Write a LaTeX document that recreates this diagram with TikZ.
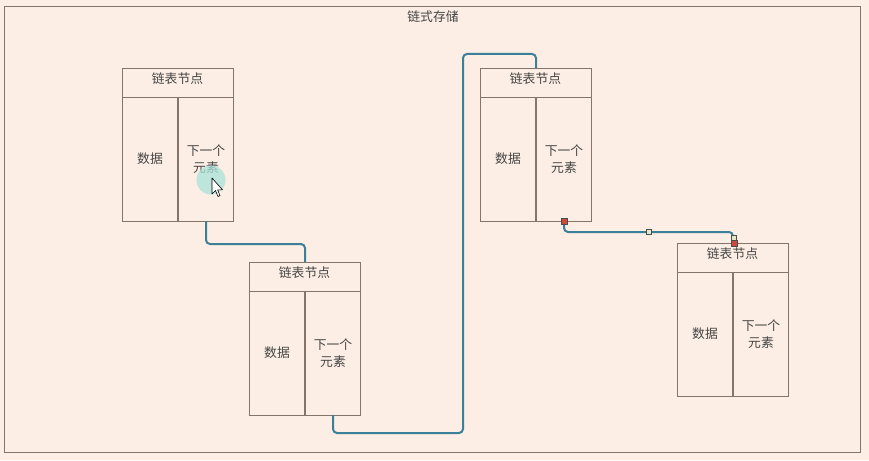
\documentclass[tikz,border=0pt]{standalone}
\usepackage{fontspec}
\setmainfont{Noto Sans CJK SC}
\definecolor{bgc}{HTML}{FCEEE4}
\definecolor{edgec}{HTML}{857468}
\definecolor{linkc}{HTML}{3C7F98}
\definecolor{txtc}{HTML}{454545}
\definecolor{handr}{HTML}{D0483C}
\definecolor{handw}{HTML}{E4E6C8}
\definecolor{hilite}{HTML}{A8E2D8}
\tikzset{
  x=1pt,y=-1pt,
  frame/.style={draw=edgec,line width=1pt},
  cell/.style={draw=edgec,line width=0.9pt},
  divider/.style={draw=edgec,line width=1.7pt},
  lbl/.style={text=txtc,font=\fontsize{12.8}{17.4}\selectfont,inner sep=0pt,align=center},
  link/.style={draw=linkc,line width=2pt,rounded corners=4pt},
  hred/.style={draw=black!70,fill=handr,line width=0.6pt,minimum size=6pt,inner sep=0pt},
  hwhite/.style={draw=black!70,fill=handw,line width=0.6pt,minimum size=5pt,inner sep=0pt}
}
% #1 name, #2 left x, #3 top y
\newcommand{\listnode}[3]{%
  \coordinate (#1-tl) at (#2,#3);
  \draw[cell] (#2,#3) rectangle ++(111,153);
  \draw[cell] (#2,#3+29) -- ++(111,0);
  \draw[divider] (#2+56,#3+29) -- ++(0,124);
  \node[lbl] (#1-h) at (#2+55.5,#3+10.3) {链表节点};
  \node[lbl] (#1-d) at (#2+28,#3+91) {数据};
  \node[lbl] (#1-n) at (#2+84,#3+91) {下一个\\元素};
  \coordinate (#1-top) at (#2+56,#3);
  \coordinate (#1-bot) at (#2+84,#3+153);
}
\begin{document}
\begin{tikzpicture}
\fill[bgc] (0,0) rectangle (869,460);
\useasboundingbox (0,0) rectangle (869,460);
\draw[frame] (4,7) rectangle (860,452);
\node[lbl] (title) at (433,17) {链式存储};

\listnode{n1}{122}{68}
\listnode{n2}{249}{262}
\listnode{n3}{480}{68}
\listnode{n4}{677}{243}

% connectors
\draw[link] (n1-bot) -- (206,244) -- (305,244) -- (n2-top);
\draw[link] (n2-bot) -- (333,433) -- (463,433) -- (463,54) -- (536,54) -- (n3-top);
\draw[link] (n3-bot) -- (564,232) -- (733,232) -- (n4-top);

% selection handles on the last connector
\node[hred] (h1) at (n3-bot) {};
\node[hwhite] (h2) at (649,232) {};
\node[hwhite] (h3) at (734,238) {};
\node[hred] (h4) at (734,243) {};

% cursor highlight
\fill[hilite,opacity=0.75] (211,180) circle (14.5);
\draw[black,fill=white,line width=0.6pt,line join=round]
  (212,178) -- (212,194) -- (215.5,190.5) -- (218,196.5) -- (220,195.7) -- (217.6,189.8) -- (222.5,189.8) -- cycle;
\end{tikzpicture}
\end{document}
